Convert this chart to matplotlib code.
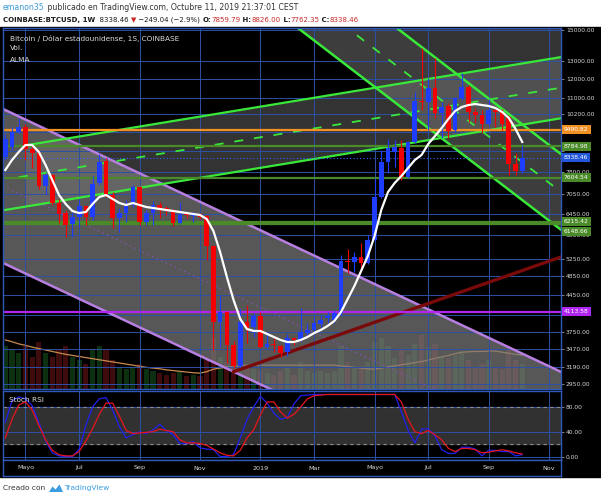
import numpy as np
import pandas as pd
import matplotlib
matplotlib.use('Agg')
import matplotlib.pyplot as plt
import matplotlib.dates as mdates
import matplotlib.transforms as mtransforms
from matplotlib.patches import Rectangle, Polygon
from matplotlib.ticker import FixedLocator, NullLocator, FuncFormatter

# COINBASE:BTCUSD weekly candles, first one is the week of 16 Apr 2018
weeks = pd.date_range('2018-04-16', periods=78, freq='7D')

opens = [8370, 8780, 9380, 9620, 8670, 8540, 7330, 7710, 6770, 6470,
         6150, 6360, 6690, 6360, 7420, 8220, 7030, 6320, 6480, 6720,
         7300, 6220, 6480, 6720, 6610, 6560, 6190, 6430, 6390, 6440,
         6370, 5550, 3930, 4100, 3530, 3200, 3930, 3840, 4040, 3500,
         3550, 3520, 3420, 3650, 3620, 3730, 3780, 3890, 4000, 3960,
         4090, 5190, 5160, 5300, 5140, 5720, 6960, 8190, 8570, 8740,
         7630, 8980, 10840, 10790, 11480, 10230, 10570, 9480, 10960, 11560,
         10310, 10150, 9740, 10390, 10310, 10050, 8110, 7859.79]
highs = [9300, 9610, 10010, 9740, 8850, 8650, 7780, 7740, 6900, 6560,
         6500, 6870, 6720, 7670, 8490, 8330, 7130, 6620, 6870, 7360,
         7330, 6560, 6850, 6820, 6690, 6590, 6820, 6480, 6510, 6480,
         6420, 5590, 4420, 4130, 3590, 4170, 4240, 4090, 4100, 3750,
         3650, 3530, 3710, 3670, 4190, 3910, 4020, 4050, 4100, 4150,
         5340, 5480, 5420, 5650, 5850, 7590, 8650, 9090, 9050, 9050,
         9010, 11300, 13810, 12030, 13190, 10790, 10730, 11040, 12300, 11650,
         10470, 10390, 10910, 10550, 10420, 10110, 8530, 8826.00]
lows = [8260, 8650, 9350, 8260, 7960, 7230, 7060, 6720, 6180, 5800,
        5800, 6070, 6130, 6270, 7360, 6970, 6040, 5930, 6210, 6650,
        6130, 6130, 6130, 6320, 6420, 6100, 6150, 6320, 6220, 6290,
        5220, 3450, 3500, 3250, 3180, 3190, 3570, 3670, 3480, 3480,
        3420, 3340, 3350, 3530, 3600, 3670, 3730, 3840, 3900, 3900,
        4050, 4910, 4940, 4940, 5120, 5690, 6940, 7780, 8010, 7530,
        7590, 8940, 10390, 9480, 10010, 9140, 9140, 9400, 10880, 9850,
        9770, 9360, 9700, 9620, 9480, 7710, 7710, 7762.35]
closes = [9090, 9400, 9620, 8670, 8520, 7330, 7710, 6770, 6450, 6130,
          6360, 6690, 6360, 7400, 8190, 7030, 6330, 6480, 6690, 7300,
          6220, 6480, 6720, 6590, 6540, 6180, 6410, 6400, 6470, 6350,
          5550, 3930, 4100, 3530, 3200, 3930, 3820, 4040, 3500, 3550,
          3530, 3410, 3640, 3610, 3740, 3780, 3900, 3960, 4030, 4090,
          5180, 5160, 5280, 5140, 5720, 6960, 8190, 8710, 8760, 7630,
          8980, 10830, 10760, 11480, 10230, 10550, 9450, 10960, 11560, 10310,
          10150, 9740, 10390, 10310, 9740, 8110, 7860, 8338.46]

alma = [7886, 8256, 8565, 8845, 8845, 8565, 8069, 7532, 7030, 6745,
        6532, 6472, 6502, 6745, 6966, 7030, 6902, 6776, 6714, 6776,
        6714, 6653, 6623, 6592, 6562, 6532, 6502, 6472, 6443, 6414,
        6297, 5958, 5410, 4825, 4340, 3977, 3799, 3765, 3765, 3713,
        3662, 3612, 3579, 3579, 3612, 3662, 3730, 3782, 3852, 3941,
        4107, 4360, 4630, 4959, 5313, 5822, 6562, 7127, 7429, 7671,
        7959, 8256, 8448, 8886, 9218, 9563, 9967, 10340, 10531, 10628,
        10677, 10628, 10580, 10483, 10293, 10012, 9520, 8968]

# volume in thousands of BTC
volume = [120, 110, 100, 120, 90, 130, 100, 90, 110, 120,
          90, 80, 70, 110, 120, 110, 80, 60, 55, 60,
          70, 55, 50, 45, 40, 45, 50, 35, 40, 35,
          80, 140, 90, 75, 70, 90, 65, 55, 50, 45,
          40, 50, 60, 40, 75, 50, 45, 50, 45, 50,
          120, 75, 60, 65, 75, 130, 140, 120, 85, 110,
          95, 125, 150, 115, 125, 90, 85, 95, 100, 80,
          60, 70, 80, 60, 55, 115, 80, 70]
volume_ma = [136, 131, 125, 121, 116, 112, 108, 104, 100, 96,
             93, 90, 87, 84, 81, 78, 75, 72, 69, 66,
             63, 60, 58, 56, 53, 51, 49, 47, 45, 44,
             48, 55, 58, 61, 63, 65, 66, 66, 66, 66,
             66, 66, 66, 66, 66, 66, 66, 66, 66, 66,
             64, 62, 60, 58, 56, 55, 58, 61, 64, 67,
             70, 73, 76, 80, 85, 89, 93, 98, 102, 103,
             104, 104, 105, 105, 102, 99, 96, 94]

stoch_k = [55, 90, 96, 93, 82, 55, 25, 6, 1, 0,
           0, 12, 50, 80, 93, 95, 75, 48, 30, 35,
           40, 37, 43, 52, 42, 35, 21, 21, 24, 14,
           12, 11, 0, 0, 3, 30, 60, 80, 97, 86,
           70, 60, 63, 85, 98, 99, 100, 100, 100, 100,
           100, 100, 100, 100, 100, 100, 100, 100, 100, 72,
           42, 22, 44, 45, 33, 11, 5, 5, 15, 15,
           12, 1, 10, 10, 8, 8, 1, 3]
stoch_d = [30, 60, 83, 88, 75, 50, 27, 10, 3, 1,
           1, 8, 25, 45, 68, 86, 86, 65, 42, 37,
           38, 39, 40, 44, 42, 40, 27, 22, 22, 21,
           18, 12, 6, 2, 1, 10, 30, 43, 67, 88,
           88, 72, 62, 68, 80, 93, 98, 99, 100, 100,
           100, 100, 100, 100, 100, 100, 100, 100, 100, 88,
           60, 40, 37, 42, 35, 27, 13, 8, 13, 13,
           11, 6, 7, 9, 11, 9, 6, 4]

price_ticks = [2950, 3190, 3470, 3750, 4050, 4450, 4850, 5250, 5850, 6450,
               7050, 7800, 8600, 9400, 10200, 11000, 12000, 13000, 15000]
hidden_ticks = [4050, 8600, 9400]   # covered by the level tags on the axis
month_ticks = ['2018-05-07', '2018-07-02', '2018-09-03', '2018-11-05', '2019-01-07',
               '2019-03-04', '2019-05-06', '2019-07-01', '2019-09-02', '2019-11-04']
month_labels = ['Mayo', 'Jul', 'Sep', 'Nov', '2019', 'Mar', 'Mayo', 'Jul', 'Sep', 'Nov']

# horizontal levels drawn on the chart: price, colour, label offset (px)
levels = [(9490.82, '#f39024', 0), (8784.98, '#4a8a28', 0), (7604.54, '#4a8a28', 0),
          (6215.42, '#4a8a28', 0), (6148.66, '#4a8a28', -7), (4113.58, '#b026f0', 0)]
last_price = 8338.46

# trend lines as (date, price) anchors
purple_upper = [('2018-04-16', 10384), ('2019-10-07', 3393)]
purple_mid = [('2018-04-16', 7291), ('2019-10-07', 2381)]
purple_lower = [('2018-04-16', 5120), ('2019-10-07', 1671)]
asc_top = [('2018-05-07', 8830), ('2019-10-07', 12862)]
asc_mid = [('2018-04-30', 7630), ('2019-10-07', 11175)]
asc_bot = [('2018-04-16', 6564), ('2019-10-07', 9711)]
desc_top = [('2019-05-27', 15250), ('2019-10-07', 9724)]
desc_mid = [('2019-05-27', 12814), ('2019-10-07', 8173)]
desc_bot = [('2019-02-18', 14990), ('2019-10-07', 6869)]
support = [('2018-12-10', 3122), ('2019-10-07', 4969)]

W, H = 601, 500
GRID = '#2c50a6'
BLUE = '#1f3dff'
RED = '#f40000'
FILL = '#7a7a7a'


def rect(x0, y0, x1, y1):
    return [x0 / W, 1 - y1 / H, (x1 - x0) / W, (y1 - y0) / H]


def line_at(seg, xs):
    (d0, p0), (d1, p1) = seg
    a, b = mdates.datestr2num(d0), mdates.datestr2num(d1)
    t = (np.asarray(xs) - a) / (b - a)
    return np.exp(np.log(p0) + t * (np.log(p1) - np.log(p0)))


x = mdates.date2num(weeks.to_numpy())
xmin, xmax = x[0] - 2.4, x[0] + 579.4
mt = mdates.datestr2num(month_ticks)

fig = plt.figure(figsize=(W / 100, H / 100), dpi=100, facecolor='white')
fig.add_artist(Rectangle((0, 1 - 477 / H), 1, 450 / H, transform=fig.transFigure,
                         color='black', zorder=-5))

ax_vol = fig.add_axes(rect(3, 28, 561, 389), zorder=0)
ax = fig.add_axes(rect(3, 28, 561, 389), sharex=ax_vol, zorder=1)
ax_rsi = fig.add_axes(rect(3, 391, 561, 460), sharex=ax_vol, zorder=1)
ax_dt = fig.add_axes(rect(3, 460, 561, 476), sharex=ax_vol, zorder=1)

# volume underneath everything
up = np.array(closes) >= np.array(opens)
ax_vol.bar(x, volume, width=5.4, color=np.where(up, '#1f6b25', '#8a1c1c'), alpha=0.45, lw=0)
ax_vol.plot(x, volume_ma, color='#c8894c', lw=0.9)
ax_vol.set_ylim(0, 1000)
ax_vol.set_axis_off()

# main price panel
ax.set_yscale('log')
ax.patch.set_visible(False)
ax.set_xlim(xmin, xmax)
ax.set_ylim(2884, 15138)
ax.set_axisbelow('line')
ax.grid(True, color=GRID, lw=0.7)

xs = np.array([xmin, xmax])
ax.fill_between(xs, line_at(purple_upper, xs), line_at(purple_lower, xs),
                color=FILL, alpha=0.72, lw=0, zorder=0.5)
xa = np.array([mdates.datestr2num(asc_top[0][0]), xmax])
ax.fill_between(xa, line_at(asc_top, xa), line_at(asc_bot, xa),
                color=FILL, alpha=0.42, lw=0, zorder=0.5)
ax.fill_between(xs, line_at(desc_top, xs), line_at(desc_bot, xs),
                color=FILL, alpha=0.5, lw=0, zorder=0.5)
ax.fill_between(xs, line_at(desc_top, xs), 40000,
                color=FILL, alpha=0.42, lw=0, zorder=0.5)

for seg in (purple_upper, purple_lower):
    ax.plot(xs, line_at(seg, xs), color='#b77fe0', lw=1.8, zorder=2)
ax.plot(xs, line_at(purple_mid, xs), color='#8e4fc0', lw=0.9, ls=(0, (1, 3)), zorder=2)

ax.plot(xa, line_at(asc_top, xa), color='#3ae83a', lw=1.6, zorder=2)
xm = np.array([mdates.datestr2num(asc_mid[0][0]), xmax])
ax.plot(xm, line_at(asc_mid, xm), color='#3ae83a', lw=1.3, ls=(0, (5, 6)), zorder=2)
ax.plot(xs, line_at(asc_bot, xs), color='#3ae83a', lw=1.6, zorder=2)
for seg, ls, lw in ((desc_top, '-', 1.8), (desc_mid, (0, (5, 6)), 1.3), (desc_bot, '-', 1.8)):
    ax.plot(xs, line_at(seg, xs), color='#3ae83a', lw=lw, ls=ls, zorder=2)

xr = np.array([mdates.datestr2num(support[0][0]), xmax])
ax.plot(xr, line_at(support, xr), color='#7a0a0a', lw=2.4, zorder=2)

for price, color, dy in levels:
    ax.axhline(price, color=color, lw=1.6, zorder=2.2)
ax.axhline(last_price, color='#2f62ff', lw=0.8, ls=(0, (1, 2)), zorder=2.2)

# candles
o, h, l, c = map(np.array, (opens, highs, lows, closes))
cols = np.where(c >= o, BLUE, RED)
ax.vlines(x, l, h, colors=cols, lw=0.8, zorder=4)
body = np.maximum(np.abs(c - o), 0.004 * c)
ax.bar(x, body, bottom=np.minimum(o, c), width=4.9, color=cols, lw=0, zorder=4)
ax.plot(x, alma, color='white', lw=1.6, zorder=5)

ax.set_xticks(mt)
ax.tick_params(axis='x', length=0, labelbottom=False)
ax.yaxis.tick_right()
ax.yaxis.set_major_locator(FixedLocator(price_ticks))
ax.yaxis.set_minor_locator(NullLocator())
ax.yaxis.set_major_formatter(FuncFormatter(
    lambda v, p: '' if round(v) in hidden_ticks else f'{v:.2f}'))
ax.tick_params(axis='y', which='major', labelsize=4.3, labelcolor='#d8d8d8',
               color='#9a9a9a', length=2, pad=1.5, width=0.6)

trans = mtransforms.blended_transform_factory(ax.transAxes, ax.transData)
for price, color, dy in levels + [(last_price, '#2157d8', 0)]:
    ax.annotate(f'{price:.2f}', xy=(1, price), xycoords=trans, xytext=(3, dy),
                textcoords='offset pixels', va='center', ha='left', fontsize=4.3,
                color='white', annotation_clip=False, zorder=8,
                bbox=dict(boxstyle='square,pad=0.35', fc=color, ec='none'))

# stochastic RSI panel
ax_rsi.set_facecolor('black')
ax_rsi.set_ylim(-5.6, 105.6)
ax_rsi.axhspan(20, 80, color='#313131', zorder=0.3)
ax_rsi.set_axisbelow('line')
ax_rsi.grid(True, color=GRID, lw=0.7)
for lvl in (80, 20):
    ax_rsi.axhline(lvl, color='#8c8c8c', lw=0.8, ls=(0, (3, 3)), zorder=1.8)
ax_rsi.plot(x, stoch_k, color='#2020f0', lw=0.9, zorder=3)
ax_rsi.plot(x, stoch_d, color='#e8141e', lw=0.9, zorder=3)
ax_rsi.yaxis.tick_right()
ax_rsi.set_yticks([0, 40, 80])
ax_rsi.yaxis.set_major_formatter(FuncFormatter(lambda v, p: f'{v:.2f}'))
ax_rsi.tick_params(axis='y', labelsize=4.3, labelcolor='#d8d8d8', color='#9a9a9a',
                   length=2, pad=1.5, width=0.6)
ax_rsi.tick_params(axis='x', length=0, labelbottom=False)

# date strip
ax_dt.set_facecolor('black')
ax_dt.set_ylim(0, 1)
ax_dt.tick_params(length=0, labelbottom=False, labelleft=False)
for xt, lab in zip(mt, month_labels):
    ax_dt.text(xt, 0.5, lab, color='#d8d8d8', fontsize=4.6, ha='center', va='center')

for a in (ax, ax_rsi, ax_dt):
    for s in a.spines.values():
        s.set_color('#2f58b8')
        s.set_linewidth(1)

# header and captions
hdr = fig.add_axes([0, 0, 1, 1], zorder=10)
hdr.set_axis_off()


def chain(parts, x0, y0, size):
    s, col, wt = parts[0]
    t = hdr.text(x0, y0, s, color=col, fontweight=wt, fontsize=size, va='baseline')
    for s, col, wt in parts[1:]:
        t = hdr.annotate(s, xy=(1, 0), xycoords=t, va='bottom', color=col,
                         fontweight=wt, fontsize=size)
    return t


chain([('emanon35', '#3d9ad6', 'normal'),
       (' publicado en TradingView.com, Octubre 11, 2019 21:37:01 CEST', '#333333', 'normal')],
      3 / W, 1 - 9.5 / H, 5.6)
chain([('COINBASE:BTCUSD, 1W', '#1a1a1a', 'bold'), ('  8338.46 ', '#1a1a1a', 'normal'),
       ('▼', '#c62828', 'normal'), (' −249.04 (−2.9%) ', '#1a1a1a', 'normal'),
       ('O:', '#1a1a1a', 'bold'), ('7859.79', '#c62828', 'normal'),
       (' H:', '#1a1a1a', 'bold'), ('8826.00', '#c62828', 'normal'),
       (' L:', '#1a1a1a', 'bold'), ('7762.35', '#c62828', 'normal'),
       (' C:', '#1a1a1a', 'bold'), ('8338.46', '#c62828', 'normal')],
      3 / W, 1 - 22 / H, 5.05)

for label, yy in (('Bitcoin / Dólar estadounidense, 1S, COINBASE', 38), ('Vol.', 48.5), ('ALMA', 60)):
    hdr.text(10 / W, 1 - yy / H, label, color='#dcdcdc', fontsize=5.3, va='center')
hdr.text(9 / W, 1 - 400 / H, 'Stoch RSI', color='#dcdcdc', fontsize=5.3, va='center')

hdr.text(3 / W, 1 - 488 / H, 'Creado con', color='#333333', fontsize=5.4, va='center')
logo = [(49, 492), (52.5, 486.5), (55.5, 489.5), (59.5, 484.5), (63, 492)]
hdr.add_patch(Polygon([(px / W, 1 - py / H) for px, py in logo], closed=True,
                      fc='#3b9ce0', ec='none', transform=hdr.transAxes))
hdr.text(64 / W, 1 - 488 / H, 'TradingView', color='#3b9ce0', fontsize=5.4, va='center')

fig.savefig('out.png', dpi=100, facecolor='white')
